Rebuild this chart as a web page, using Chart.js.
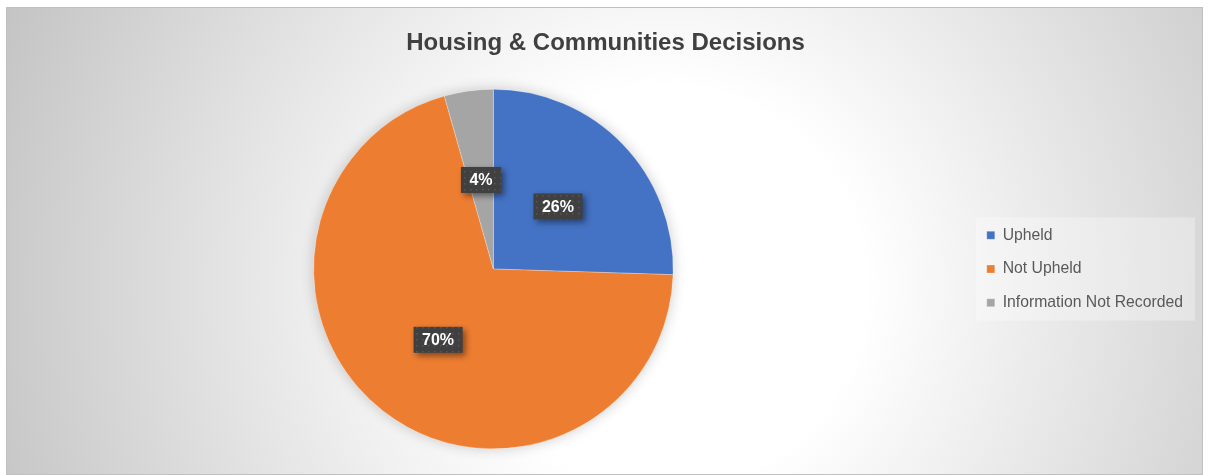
<!DOCTYPE html>
<html>
<head>
<meta charset="utf-8">
<title>Housing & Communities Decisions</title>
<script src="https://cdn.jsdelivr.net/npm/chart.js@4/dist/chart.umd.min.js"></script>
<style>
  html, body { margin: 0; padding: 0; background: #fff; }
  #frame {
    position: absolute; left: 6px; top: 7px;
    width: 1195px; height: 466px;
    border: 1px solid #c0c0c0;
    background: radial-gradient(circle farthest-corner at 55% 60%, #ffffff 0%, #ffffff 28%, #c4c4c4 100%);
  }
  canvas { display: block; }
</style>
</head>
<body>
<div id="frame"><canvas id="chart" width="1195" height="466"></canvas></div>
<script>
// data
var categories = ['Upheld', 'Not Upheld', 'Information Not Recorded'];
var shares = [25.5, 70.1, 4.4];
var colours = ['#4472C4', '#ED7D31', '#A5A5A5'];

var FONT = "'Liberation Sans', Arial, sans-serif";

// small dotted fill used behind the data labels
function dotPattern(ctx) {
  var c = document.createElement('canvas');
  c.width = 6; c.height = 6;
  var p = c.getContext('2d');
  p.fillStyle = '#404040';
  p.fillRect(0, 0, 6, 6);
  p.fillStyle = '#575757';
  p.fillRect(1, 1, 1.5, 1.5);
  return ctx.createPattern(c, 'repeat');
}

// soft shadow under the whole pie
var pieShadow = {
  id: 'pieShadow',
  beforeDatasetsDraw: function (chart) {
    var arc = chart.getDatasetMeta(0).data[0];
    if (!arc) return;
    var ctx = chart.ctx;
    ctx.save();
    ctx.shadowColor = 'rgba(0,0,0,0.2)';
    ctx.shadowBlur = 14;
    ctx.fillStyle = '#ffffff';
    ctx.beginPath();
    ctx.arc(arc.x, arc.y, arc.outerRadius, 0, Math.PI * 2);
    ctx.fill();
    ctx.restore();
  }
};

// light panel behind the legend
var legendPanel = {
  id: 'legendPanel',
  beforeDraw: function (chart) {
    var boxes = chart.legend && chart.legend.legendHitBoxes;
    if (!boxes || !boxes.length) return;
    var first = boxes[0], last = boxes[boxes.length - 1];
    var w = 0;
    boxes.forEach(function (b) { w = Math.max(w, b.width); });
    var ctx = chart.ctx;
    ctx.save();
    ctx.fillStyle = 'rgba(255,255,255,0.3)';
    ctx.fillRect(first.left - 11, first.top - 10, w + 23, last.top + last.height + 10 - (first.top - 10));
    ctx.restore();
  }
};

// percentage boxes in the middle of each slice
var sliceLabels = {
  id: 'sliceLabels',
  afterDatasetsDraw: function (chart) {
    var ctx = chart.ctx;
    var meta = chart.getDatasetMeta(0);
    var fill = dotPattern(ctx);
    ctx.save();
    ctx.font = 'bold 16px ' + FONT;
    ctx.textAlign = 'center';
    ctx.textBaseline = 'middle';
    meta.data.forEach(function (arc, i) {
      var pos = arc.tooltipPosition();
      var txt = Math.round(shares[i]) + '%';
      var w = ctx.measureText(txt).width + 17;
      var h = 26;
      ctx.save();
      ctx.shadowColor = 'rgba(0,0,0,0.45)';
      ctx.shadowBlur = 6;
      ctx.shadowOffsetX = 3;
      ctx.shadowOffsetY = 3;
      ctx.fillStyle = fill;
      ctx.fillRect(pos.x - w / 2, pos.y - h / 2, w, h);
      ctx.restore();
      ctx.fillStyle = '#ffffff';
      ctx.fillText(txt, pos.x, pos.y + 1);
    });
    ctx.restore();
  }
};

new Chart(document.getElementById('chart'), {
  type: 'pie',
  data: {
    labels: categories,
    datasets: [{
      data: shares,
      backgroundColor: colours,
      borderColor: 'rgba(255,255,255,0.5)',
      borderWidth: 0.5
    }]
  },
  options: {
    responsive: false,
    animation: false,
    devicePixelRatio: 1,
    layout: { padding: { top: 0, bottom: 25, left: 11, right: 9 } },
    plugins: {
      title: {
        display: true,
        text: 'Housing & Communities Decisions',
        color: '#404040',
        font: { family: FONT, size: 24, weight: 'bold' },
        padding: { top: 20.6, bottom: 31.6 }
      },
      legend: {
        position: 'right',
        fullSize: false,
        labels: {
          color: '#595959',
          font: { family: FONT, size: 15.75 },
          boxWidth: 8,
          boxHeight: 8,
          padding: 18
        }
      },
      tooltip: { enabled: false }
    }
  },
  plugins: [legendPanel, pieShadow, sliceLabels]
});
</script>
</body>
</html>
